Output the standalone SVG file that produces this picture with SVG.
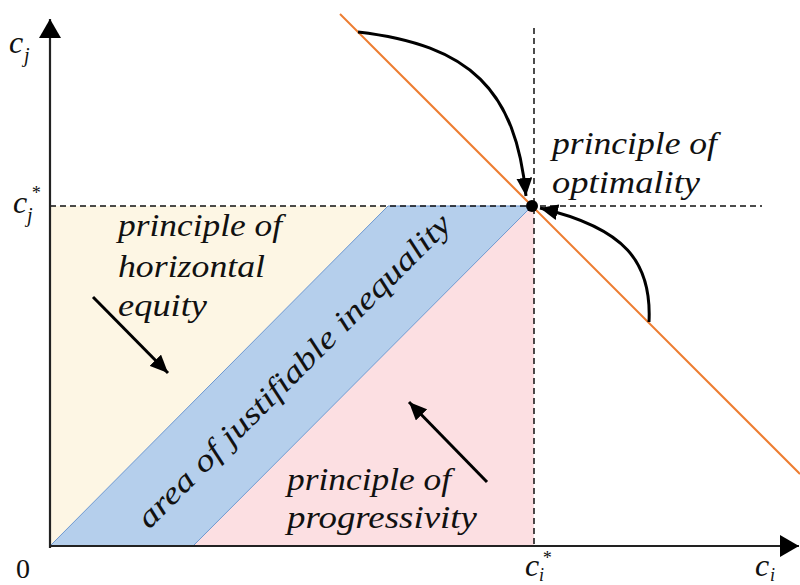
<svg xmlns="http://www.w3.org/2000/svg" width="800" height="585" viewBox="0 0 800 585">
<style>
.lbl{font-family:"Liberation Serif","DejaVu Serif",serif;font-style:italic;font-size:31px;fill:#111}
.math{font-family:"Liberation Serif","DejaVu Serif",serif;font-style:italic;fill:#111}
.dash{stroke:#111;stroke-width:1.5;stroke-dasharray:6 4;fill:none}
.axis{stroke:#222;stroke-width:2.2;fill:none}
.arr{stroke:#000;stroke-width:3;fill:none}
</style>
<defs>
<marker id="ah" markerUnits="userSpaceOnUse" markerWidth="20" markerHeight="16" refX="18" refY="8" orient="auto"><path d="M0,0 L18,8 L0,16 Z" fill="#000"/></marker>
<marker id="axh" markerUnits="userSpaceOnUse" markerWidth="20" markerHeight="22" refX="19" refY="11" orient="auto"><path d="M0,0 L19,11 L0,22 Z" fill="#000"/></marker>
</defs>
<g id="regions">
<polygon id="horizontal-equity-area" points="50,206 388,206 50,546" fill="#FDF6E4"/>
<polygon id="progressivity-area" points="193,546 532,206 534,206 534,546" fill="#FCDFE2"/>
<polygon id="justifiable-area" points="50,546 388,206 532,206 193,546" fill="#B5CFEC" stroke="#6E98CF" stroke-width="1"/>
</g>
<g id="guides">
<line class="dash" x1="50" y1="206" x2="762" y2="206"/>
<line class="dash" x1="534" y1="28" x2="534" y2="546"/>
<line id="frontier" x1="340" y1="14" x2="800" y2="474" stroke="#ED7D31" stroke-width="2"/>
</g>
<g id="axes">
<line class="axis" x1="50" y1="548" x2="50" y2="19" marker-end="url(#axh)"/>
<line class="axis" x1="49" y1="546" x2="799" y2="546" marker-end="url(#axh)"/>
</g>
<g id="connectors">
<path class="arr" d="M358,32 C470,45 516,90 526,196" marker-end="url(#ah)"/>
<path class="arr" d="M649,322 C652,262 625,228 540,208" marker-end="url(#ah)"/>
<line class="arr" x1="93" y1="297" x2="168" y2="373" marker-end="url(#ah)"/>
<line class="arr" x1="487" y1="482" x2="409" y2="402" marker-end="url(#ah)"/>
</g>
<g id="optimum"><circle cx="532" cy="206" r="6" fill="#000"/></g>
<g id="label-optimality">
<text class="lbl" x="552" y="154" textLength="165" lengthAdjust="spacingAndGlyphs">principle of</text>
<text class="lbl" x="552" y="193" textLength="148" lengthAdjust="spacingAndGlyphs">optimality</text>
</g>
<g id="label-horizontal">
<text class="lbl" x="118" y="236" textLength="164" lengthAdjust="spacingAndGlyphs">principle of</text>
<text class="lbl" x="118" y="277" textLength="147" lengthAdjust="spacingAndGlyphs">horizontal</text>
<text class="lbl" x="118" y="316" textLength="89" lengthAdjust="spacingAndGlyphs">equity</text>
</g>
<g id="label-progressivity">
<text class="lbl" x="287" y="490" textLength="164" lengthAdjust="spacingAndGlyphs">principle of</text>
<text class="lbl" x="287" y="528" textLength="190" lengthAdjust="spacingAndGlyphs">progressivity</text>
</g>
<g id="label-band">
<text class="lbl" transform="translate(301,378) rotate(-45)" text-anchor="middle" textLength="430" lengthAdjust="spacingAndGlyphs">area of justifiable inequality</text>
</g>
<g id="axis-labels">
<text class="math" x="9" y="53" font-size="32">c</text><text class="math" x="24" y="62" font-size="20">j</text>
<text class="math" x="13" y="213" font-size="32">c</text><text class="math" x="27" y="222" font-size="20">j</text><text class="math" x="31" y="199" font-size="18" font-style="normal">*</text>
<text x="23" y="578" font-family="Liberation Serif,serif" font-size="28" text-anchor="middle" fill="#111">0</text>
<text class="math" x="525" y="576" font-size="32">c</text><text class="math" x="539" y="581" font-size="18">i</text><text class="math" x="542" y="564" font-size="18" font-style="normal">*</text>
<text class="math" x="755" y="576" font-size="32">c</text><text class="math" x="770" y="581" font-size="18">i</text>
</g>
</svg>
